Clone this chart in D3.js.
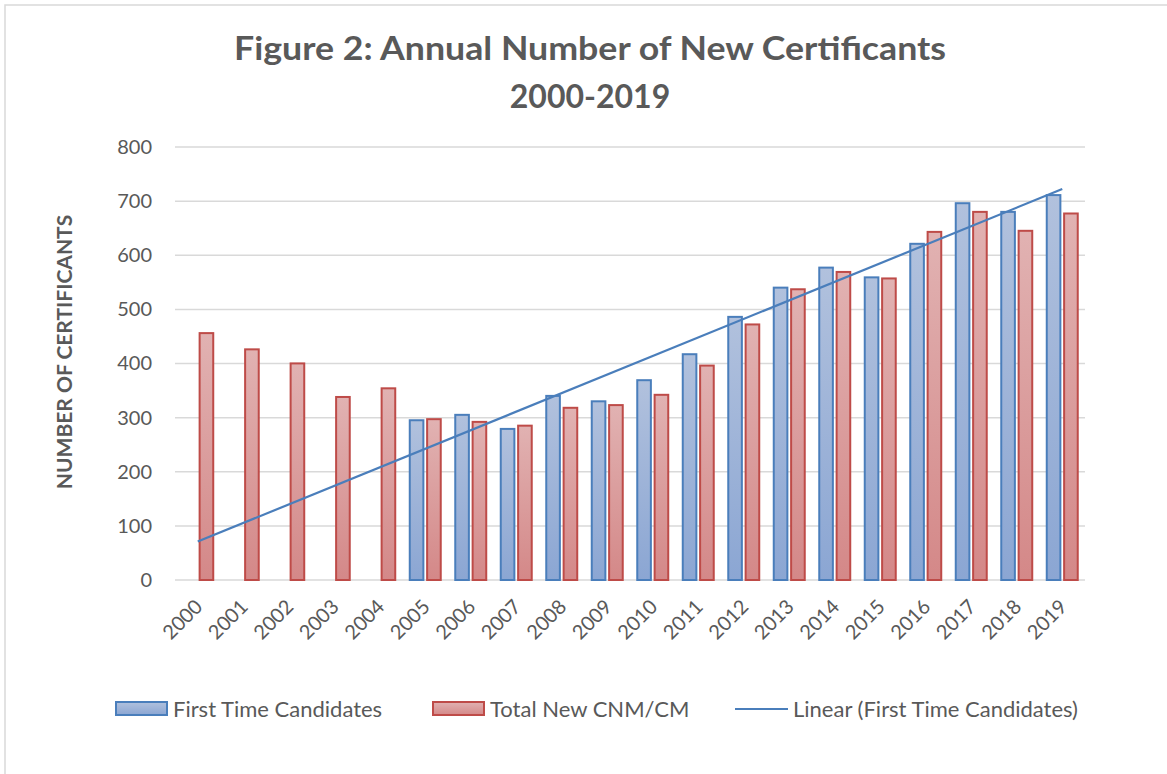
<!DOCTYPE html>
<html>
<head>
<meta charset="utf-8">
<script src="https://cdn.jsdelivr.net/npm/d3@7"></script>
<style>
  body { margin: 0; background: #fff; }
  text { font-family: Lato, "DejaVu Sans", sans-serif; fill: #595959; }
</style>
</head>
<body>
<div id="chart"></div>
<script>
// data
const years = ['2000','2001','2002','2003','2004','2005','2006','2007','2008','2009',
               '2010','2011','2012','2013','2014','2015','2016','2017','2018','2019'];
const firstTime = [null, null, null, null, null, 297, 307, 281, 342, 332,
                   371, 419, 488, 542, 579, 561, 623, 698, 682, 713];
const totalNew  = [458, 428, 402, 340, 356, 299, 294, 287, 320, 325,
                   344, 398, 474, 539, 571, 559, 645, 682, 647, 679];
const yTicks = [0, 100, 200, 300, 400, 500, 600, 700, 800];
const seriesNames = ['First Time Candidates', 'Total New CNM/CM', 'Linear (First Time Candidates)'];

const width = 1167, height = 774;
const plot = {left: 175, right: 1085, top: 147, bottom: 580};

const svg = d3.select('#chart').append('svg')
  .attr('width', width)
  .attr('height', height);

svg.append('rect')
  .attr('x', 5).attr('y', 5)
  .attr('width', width + 10).attr('height', height + 10)
  .attr('fill', '#fff')
  .attr('stroke', '#d9d9d9')
  .attr('stroke-width', 1.5);

// gradients for the bars
const defs = svg.append('defs');
function grad(id, top, bottom) {
  const g = defs.append('linearGradient').attr('id', id)
    .attr('x1', 0).attr('y1', 0).attr('x2', 0).attr('y2', 1);
  g.append('stop').attr('offset', '0%').attr('stop-color', top);
  g.append('stop').attr('offset', '100%').attr('stop-color', bottom);
}
grad('gBlue', '#b1c1dd', '#8ba6d3');
grad('gRed', '#e1b2b2', '#d48888');

// title
svg.append('text')
  .attr('x', 590).attr('y', 60)
  .attr('text-anchor', 'middle')
  .attr('textLength', 712)
  .attr('lengthAdjust', 'spacingAndGlyphs')
  .style('font-size', '33px').style('font-weight', 'bold')
  .text('Figure 2: Annual Number of New Certificants');
svg.append('text')
  .attr('x', 590).attr('y', 108)
  .attr('text-anchor', 'middle')
  .style('font-size', '32px').style('font-weight', 'bold')
  .text('2000-2019');

// scales
const x = d3.scaleBand()
  .domain(years)
  .range([plot.left, plot.right])
  .paddingInner(0.275)
  .paddingOuter(0.1375);

const xs = d3.scaleBand()
  .domain([0, 1])
  .range([0, x.bandwidth()])
  .paddingInner(0.1);

const y = d3.scaleLinear()
  .domain([0, 800])
  .range([plot.bottom, plot.top]);

// gridlines
svg.append('g')
  .selectAll('line')
  .data(yTicks)
  .enter()
  .append('line')
  .attr('x1', plot.left).attr('x2', plot.right)
  .attr('y1', d => y(d)).attr('y2', d => y(d))
  .attr('stroke', '#d9d9d9')
  .attr('stroke-width', 1.5);

// y axis labels
const yAxis = svg.append('g')
  .attr('transform', 'translate(152,0)')
  .call(d3.axisLeft(y).tickValues(yTicks).tickSize(0).tickPadding(0));
yAxis.select('.domain').remove();
yAxis.selectAll('text')
  .style('font-size', '20px')
  .style('font-family', 'Lato, sans-serif')
  .attr('fill', '#595959');

svg.append('text')
  .attr('transform', 'translate(72,352) rotate(-90)')
  .attr('text-anchor', 'middle')
  .style('font-size', '21px').style('font-weight', 'bold')
  .text('NUMBER OF CERTIFICANTS');

// x axis labels
const xAxis = svg.append('g')
  .attr('transform', 'translate(0,' + plot.bottom + ')')
  .call(d3.axisBottom(x).tickSize(0).tickPadding(0));
xAxis.select('.domain').remove();
xAxis.selectAll('text')
  .style('font-size', '20px')
  .style('font-family', 'Lato, sans-serif')
  .attr('fill', '#595959')
  .attr('text-anchor', 'end')
  .attr('dy', null)
  .attr('y', 0)
  .attr('transform', 'translate(6,28) rotate(-45)');

// bars
const bars = svg.append('g');
bars.selectAll('.blue')
  .data(years.map((yr, i) => [yr, firstTime[i]]).filter(d => d[1] != null))
  .enter()
  .append('rect')
  .attr('class', 'blue')
  .attr('x', d => x(d[0]) + xs(0) + 1)
  .attr('y', d => y(d[1]) + 1)
  .attr('width', xs.bandwidth() - 2)
  .attr('height', d => y(0) - y(d[1]) - 1)
  .attr('fill', 'url(#gBlue)')
  .attr('stroke', '#4a7ebb')
  .attr('stroke-width', 2);

bars.selectAll('.red')
  .data(years.map((yr, i) => [yr, totalNew[i]]))
  .enter()
  .append('rect')
  .attr('class', 'red')
  .attr('x', d => x(d[0]) + xs(1) + 1)
  .attr('y', d => y(d[1]) + 1)
  .attr('width', xs.bandwidth() - 2)
  .attr('height', d => y(0) - y(d[1]) - 1)
  .attr('fill', 'url(#gRed)')
  .attr('stroke', '#be4b48')
  .attr('stroke-width', 2);

// linear trendline over the first time candidates that exist
const pts = firstTime.map((v, i) => [i, v]).filter(d => d[1] != null);
const mx = d3.mean(pts, d => d[0]), my = d3.mean(pts, d => d[1]);
const slope = d3.sum(pts, d => (d[0] - mx) * (d[1] - my)) / d3.sum(pts, d => (d[0] - mx) * (d[0] - mx));
const icpt = my - slope * mx;
const cx = yr => x(yr) + x.bandwidth() / 2;

svg.append('path')
  .datum([0, years.length - 1])
  .attr('fill', 'none')
  .attr('stroke', '#4a7ebb')
  .attr('stroke-width', 2.2)
  .attr('d', d3.line()
    .x(i => cx(years[i]))
    .y(i => y(icpt + slope * i)));

// legend
const legend = svg.append('g').attr('transform', 'translate(0,709)');
const legItems = [
  {x: 115, name: seriesNames[0], kind: 'box', fill: 'url(#gBlue)', stroke: '#4a7ebb'},
  {x: 432, name: seriesNames[1], kind: 'box', fill: 'url(#gRed)', stroke: '#be4b48'},
  {x: 735, name: seriesNames[2], kind: 'line', stroke: '#4a7ebb'}
];
legItems.forEach(it => {
  if (it.kind === 'box') {
    legend.append('rect')
      .attr('x', it.x + 1).attr('y', -7)
      .attr('width', 51).attr('height', 13)
      .attr('fill', it.fill)
      .attr('stroke', it.stroke)
      .attr('stroke-width', 2);
  } else {
    legend.append('line')
      .attr('x1', it.x).attr('x2', it.x + 53)
      .attr('y1', 0).attr('y2', 0)
      .attr('stroke', it.stroke)
      .attr('stroke-width', 2.2);
  }
  legend.append('text')
    .attr('x', it.x + 58).attr('y', 7.5)
    .style('font-size', '22px')
    .text(it.name);
});
</script>
</body>
</html>
